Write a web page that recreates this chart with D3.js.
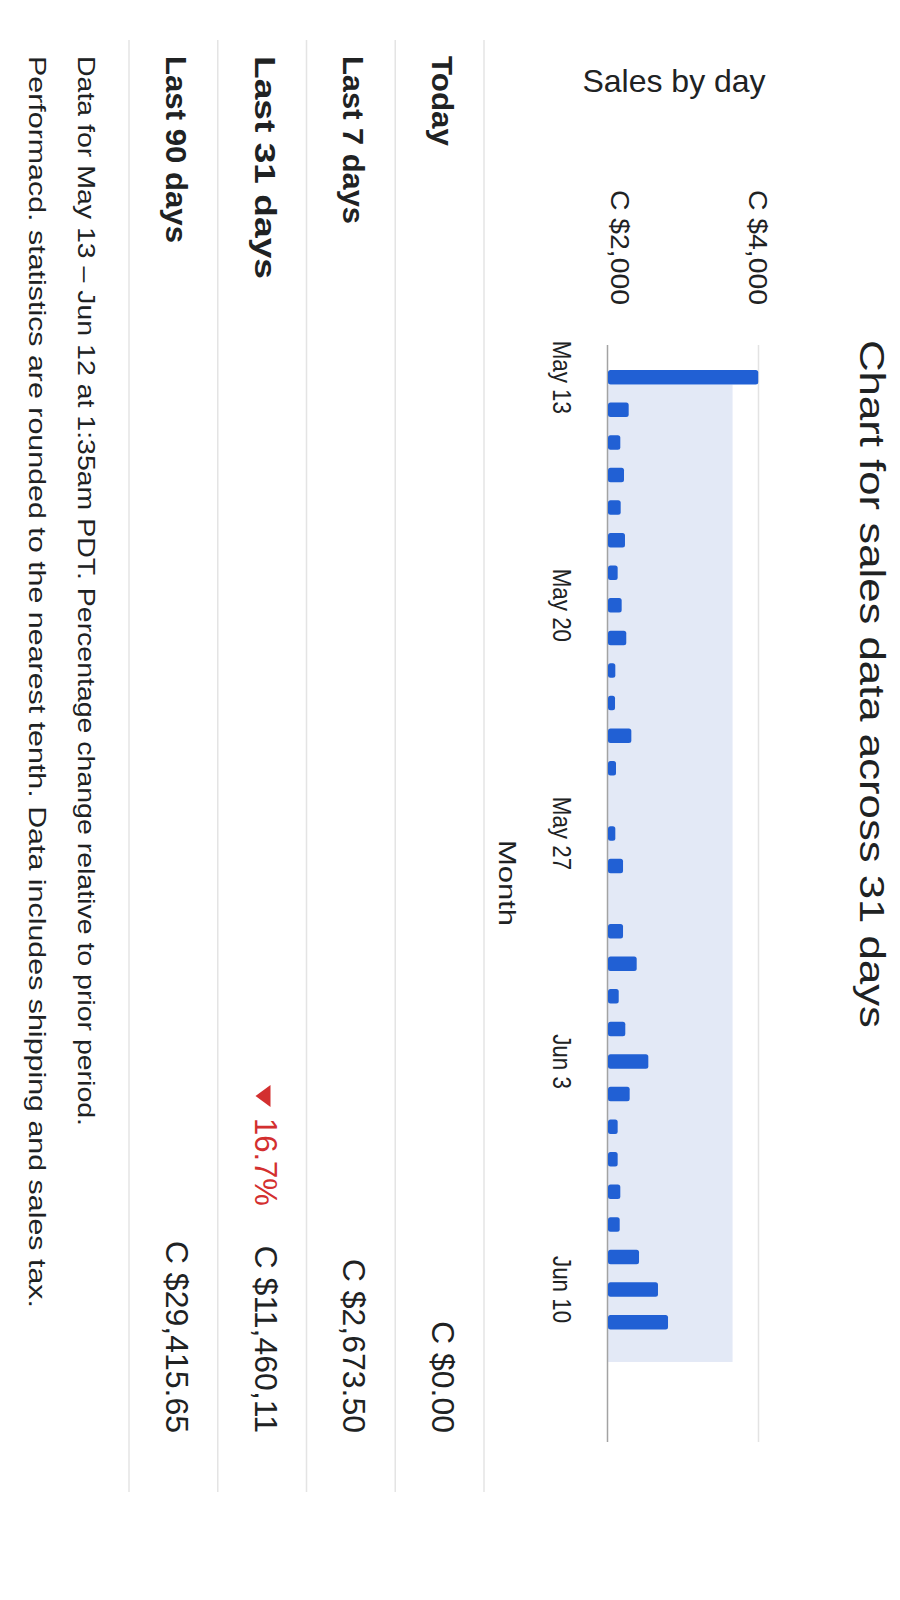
<!DOCTYPE html>
<html><head><meta charset="utf-8">
<script src="https://cdn.jsdelivr.net/npm/d3@7"></script>
<style>
html,body{margin:0;padding:0;background:#ffffff;}
svg{display:block;font-family:"Liberation Sans",Arial,Helvetica,sans-serif;}
</style></head><body>
<svg id="chart" width="900" height="1600"></svg>
<script>
// ---- data ----
const days = ["May 13","May 14","May 15","May 16","May 17","May 18","May 19","May 20","May 21","May 22","May 23","May 24","May 25","May 26","May 27","May 28","May 29","May 30","May 31","Jun 1","Jun 2","Jun 3","Jun 4","Jun 5","Jun 6","Jun 7","Jun 8","Jun 9","Jun 10","Jun 11","Jun 12"];
const sales = [3990,2274,2163,2212,2168,2225,2128,2181,2242,2097,2093,2309,2106,2000,2097,2199,2000,2199,2380,2142,2229,2534,2287,2128,2128,2163,2155,2411,2662,2795,2000];
const yTicks = [2000, 4000];
const yTickLabels = ["C $2,000", "C $4,000"];
const xTickDays = ["May 13","May 20","May 27","Jun 3","Jun 10"];
const highlightLevel = 3650;
const periods = ["Today","Last 7 days","Last 31 days","Last 90 days"];
const periodTotals = ["C $0.00","C $2,673.50","C $11,460,11","C $29,415.65"];
const periodChange = ["","","16.7%",""];
const titleText = "Chart for sales data across 31 days";
const subTitle = "Sales by day";
const xAxisTitle = "Month";
const footnotes = [
  "Data for May 13 \u2013 Jun 12 at 1:35am PDT. Percentage change relative to prior period.",
  "Performacd. statistics are rounded to the nearest tenth. Data includes shipping and sales tax."
];

// ---- layout constants (text widths as drawn in the reference) ----
const labelLens = [90, 168, 223, 187];
const fnLens = [1070, 1252];
const TXT = "#202223";
const RED = "#d32f2f";

const svg = d3.select("#chart");
svg.append("rect").attr("width",900).attr("height",1600).attr("fill","#ffffff");

// horizontal subtitle (not rotated)
svg.append("text").attr("x",674).attr("y",92).attr("text-anchor","middle")
  .attr("font-size",32).attr("fill",TXT).text(subTitle);

// everything else is drawn rotated 90deg clockwise
const g = svg.append("g").attr("transform","translate(900,0) rotate(90)");

const plotL = 345, plotR = 1442;
const x = d3.scaleBand().domain(days).range([361, 1371]).paddingInner(0.555).paddingOuter(0.2775);
const y = d3.scaleLinear().domain([2000, 4000]).range([292, 141]);

// title
g.append("text").attr("x",340).attr("y",40).attr("font-size",35).attr("fill",TXT)
  .attr("textLength",688).attr("lengthAdjust","spacingAndGlyphs").text(titleText);

// highlight band
g.append("rect")
  .attr("x", x(days[0]) + x.bandwidth())
  .attr("width", x(days[days.length-1]) - x(days[0]))
  .attr("y", y(highlightLevel))
  .attr("height", y(2000) - y(highlightLevel))
  .attr("fill","#e3e9f6");

// y axis + grid
const yAxis = g.append("g").attr("transform",`translate(${plotL},0)`)
  .call(d3.axisLeft(y).tickValues(yTicks).tickSize(-(plotR-plotL)).tickPadding(40)
    .tickFormat((d,i)=>yTickLabels[i]));
yAxis.select(".domain").remove();
yAxis.selectAll(".tick line").attr("stroke",(d)=> d===yTicks[0] ? "#a3a3a3" : "#e3e3e3").attr("stroke-width",1.5);
yAxis.selectAll(".tick text").attr("font-size",26).attr("fill",TXT)
  .attr("font-family","Liberation Sans, Arial, sans-serif")
  .attr("textLength",115).attr("lengthAdjust","spacingAndGlyphs")
  .attr("dy",(d)=> d===yTicks[0] ? "-0.12em" : "0.36em");

// bars
g.append("g").selectAll("rect").data(days).join("rect")
  .attr("x", d=>x(d))
  .attr("width", x.bandwidth())
  .attr("y", (d,i)=>y(sales[i]))
  .attr("height", (d,i)=>y(2000)-y(sales[i]))
  .attr("rx",2.5)
  .attr("fill","#2160d4");

// x axis labels
const xAxis = g.append("g").attr("transform",`translate(0,${y(2000)})`)
  .call(d3.axisBottom(x).tickValues(xTickDays).tickSize(0).tickPadding(37));
xAxis.select(".domain").remove();
xAxis.selectAll(".tick text").attr("font-size",26).attr("fill",TXT)
  .attr("font-family","Liberation Sans, Arial, sans-serif")
  .each(function(){ const L=this.getComputedTextLength(); d3.select(this).attr("textLength",L*0.86).attr("lengthAdjust","spacingAndGlyphs"); });

// x axis title
g.append("text").attr("x",883).attr("y",401).attr("text-anchor","middle")
  .attr("font-size",24).attr("fill",TXT).attr("textLength",86).attr("lengthAdjust","spacingAndGlyphs").text(xAxisTitle);

// table
const rows = d3.scaleBand().domain(periods).range([416, 771]);
const lineYs = periods.map(p=>rows(p)).concat([rows.range()[1]]);
g.append("g").selectAll("line").data(lineYs).join("line")
  .attr("x1",40).attr("x2",1492).attr("y1",d=>d).attr("y2",d=>d)
  .attr("stroke","#e4e4e4").attr("stroke-width",1.5);

const rowG = g.append("g").selectAll("g").data(periods).join("g")
  .attr("transform",p=>`translate(0,${rows(p)+52})`);
rowG.append("text").attr("x",56).attr("font-size",30).attr("font-weight",700).attr("fill",TXT)
  .attr("textLength",(p,i)=>labelLens[i]).attr("lengthAdjust","spacingAndGlyphs").text(p=>p);
rowG.append("text").attr("x",1433).attr("text-anchor","end").attr("font-size",32).attr("fill",TXT)
  .text((p,i)=>periodTotals[i]);
rowG.filter((p,i)=>periodChange[i]!=="").each(function(p){
  const i = periods.indexOf(p);
  const sel = d3.select(this);
  sel.append("text").attr("x",1118).attr("font-size",31).attr("fill",RED).text(periodChange[i]);
  const tri = d3.path();
  tri.moveTo(1085,-16); tri.lineTo(1107,-16); tri.lineTo(1096,-1); tri.closePath();
  sel.append("path").attr("d",tri.toString()).attr("fill",RED);
});

// footnotes
g.append("g").selectAll("text").data(footnotes).join("text")
  .attr("x",56).attr("y",(d,i)=>822 + i*49)
  .attr("font-size",24).attr("fill",TXT)
  .attr("textLength",(d,i)=>fnLens[i]).attr("lengthAdjust","spacingAndGlyphs")
  .text(d=>d);
</script>
</body></html>
